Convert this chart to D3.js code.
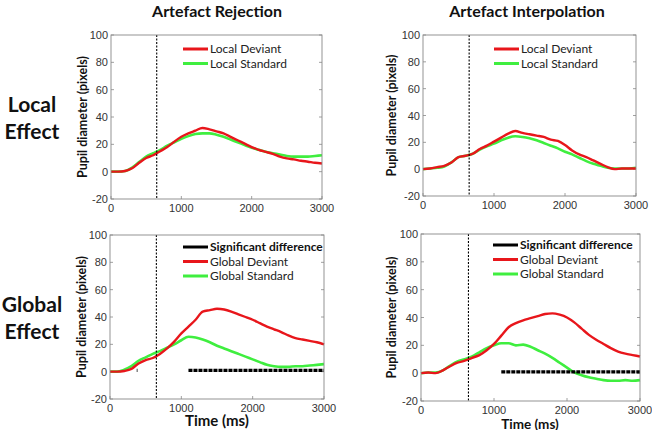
<!DOCTYPE html>
<html>
<head>
<meta charset="utf-8">
<script src="https://cdn.jsdelivr.net/npm/d3@7"></script>
<style>
  body { margin: 0; background: #fff; }
  svg { display: block; }
  .tick-lbl { font-family: "Liberation Sans", Arial, sans-serif; font-size: 11px; fill: #333; }
  .bold-lbl { font-family: Lato, "Open Sans", sans-serif; font-weight: bold; fill: #111; }
  .leg-lbl { font-family: Lato, "Open Sans", sans-serif; font-size: 12px; fill: #222; }
</style>
</head>
<body>
<div id="chart"></div>
<script>
// time axis, sampled every 100 ms
const timeMs = d3.range(0, 3001, 100);
const xTicks = [0, 1000, 2000, 3000];
const yTicks = [-20, 0, 20, 40, 60, 80, 100];
const stimulusMs = 650;

const columnTitles = ["Artefact Rejection", "Artefact Interpolation"];
const rowTitles = [["Local", "Effect"], ["Global", "Effect"]];

// Local effect, artefact rejection
const rejLocalDeviant = [0, 0, 0.5, 2.5, 6.5, 10, 12, 15, 18, 22, 25.5, 28, 30, 32, 31, 29.5, 28, 25.5, 23, 20.5, 18, 16, 14.5, 13, 11, 9.7, 9, 8, 7.3, 6.5, 6];
const rejLocalStandard = [0, 0, 0.5, 3, 7, 11, 13.5, 16, 19, 21.5, 24, 26, 27.5, 28, 28, 27, 25.5, 23.5, 21.5, 19.5, 17.5, 16, 14.5, 13.5, 12.5, 11.5, 11, 11, 11, 11.5, 12];
// Local effect, artefact interpolation
const intLocalDeviant = [0, 0.5, 1.5, 2.5, 5, 9, 10, 11.5, 15, 17.5, 20.5, 23.5, 26.5, 28.5, 27, 26, 25, 24, 22, 21, 18, 14, 11, 9, 6.5, 4, 1.5, 0, 0.5, 0.5, 0.5];
const intLocalStandard = [0, 0.5, 1, 2, 5, 9, 10, 11.5, 14.5, 17, 19, 21.5, 23.5, 24.5, 24, 23, 21.5, 19.5, 17.5, 15.5, 13, 11, 8.5, 6, 4, 2.5, 1, 0.5, 0.5, 0.5, 1];
// Global effect, artefact rejection
const rejGlobalDeviant = [0, 0, 0.5, 2, 6, 8.5, 10, 13, 17, 22, 28, 33, 38, 44, 45, 46, 45.5, 44, 42, 40, 38, 35.5, 33, 31, 29, 26.5, 24.5, 23.5, 22.5, 21.5, 20];
const rejGlobalStandard = [0, 0, 1.5, 4, 8, 10.5, 13, 15, 17.5, 20, 23, 25.5, 25, 23.5, 21.5, 19, 17, 15, 13, 11, 9, 7, 5, 4, 3.5, 3.5, 4, 4, 4.5, 5, 5.5];
// Global effect, artefact interpolation
const intGlobalDeviant = [0, 0.5, 0, 2, 5, 7.5, 9, 11, 13, 16.5, 21, 27, 33, 36, 38, 39.5, 41, 42.5, 43, 42, 40, 36.5, 32, 27.5, 24, 21, 18, 15.5, 14, 13, 12];
const intGlobalStandard = [0, 0.5, 0.5, 2, 5.5, 8.5, 10, 12, 15, 18, 20, 21.5, 21.5, 20, 20.5, 19, 16.5, 14, 11, 7.5, 4, 0.5, -1.5, -3, -4, -5, -5.5, -5.5, -5, -5.5, -5];

// significant-difference intervals (ms), drawn at 1 pixel-unit
const rejSignificant = [[375, 385], [1100, 3000]];
const intSignificant = [[1100, 3000]];

const RED = "#e8161b", GREEN = "#3fee3f";

const W = 652, H = 430;
const svg = d3.select("#chart").append("svg").attr("width", W).attr("height", H);

const panels = [
  { box: [111, 322, 35, 199], labX: 83, red: rejLocalDeviant, green: rejLocalStandard, sig: null,
    names: ["Local Deviant", "Local Standard"], leg: [183, 49], time: null },
  { box: [423, 636, 35, 196], labX: 392, red: intLocalDeviant, green: intLocalStandard, sig: null,
    names: ["Local Deviant", "Local Standard"], leg: [494, 49], time: null },
  { box: [110, 324, 235, 399], labX: 82, red: rejGlobalDeviant, green: rejGlobalStandard, sig: rejSignificant,
    names: ["Global Deviant", "Global Standard"], leg: [183, 247], time: [217, 426, 15] },
  { box: [421, 640, 234, 401], labX: 392, red: intGlobalDeviant, green: intGlobalStandard, sig: intSignificant,
    names: ["Global Deviant", "Global Standard"], leg: [493, 245], time: [530, 428.5, 13.5] }
];

panels.forEach(p => {
  const [l, r, t, b] = p.box;
  const x = d3.scaleLinear().domain([0, 3000]).range([l, r]);
  const y = d3.scaleLinear().domain([-20, 100]).range([b, t]);
  const g = svg.append("g");

  // ticks (inward, matlab style)
  g.selectAll(".yt").data(yTicks).enter().append("line")
    .attr("x1", l).attr("x2", l + 3).attr("y1", d => y(d)).attr("y2", d => y(d))
    .attr("stroke", "#888").attr("stroke-width", 0.8);
  g.selectAll(".yt2").data(yTicks).enter().append("line")
    .attr("x1", r).attr("x2", r - 3).attr("y1", d => y(d)).attr("y2", d => y(d))
    .attr("stroke", "#888").attr("stroke-width", 0.8);
  g.selectAll(".xt").data(xTicks).enter().append("line")
    .attr("x1", d => x(d)).attr("x2", d => x(d)).attr("y1", b).attr("y2", b - 3)
    .attr("stroke", "#888").attr("stroke-width", 0.8);

  g.selectAll(".ytl").data(yTicks).enter().append("text")
    .attr("class", "tick-lbl").attr("x", l - 3).attr("y", d => y(d) + 4)
    .attr("text-anchor", "end").text(d => d);
  g.selectAll(".xtl").data(xTicks).enter().append("text")
    .attr("class", "tick-lbl").attr("x", d => x(d)).attr("y", b + 13)
    .attr("text-anchor", "middle").text(d => d);

  // curves
  const line = d3.line().x((d, i) => x(timeMs[i])).y(d => y(d)).curve(d3.curveMonotoneX);
  g.append("path").datum(p.green).attr("d", line)
    .attr("fill", "none").attr("stroke", GREEN).attr("stroke-width", 2.6);
  g.append("path").datum(p.red).attr("d", line)
    .attr("fill", "none").attr("stroke", RED).attr("stroke-width", 2.4);

  // significance bar
  if (p.sig) {
    g.selectAll(".sig").data(p.sig).enter().append("line")
      .attr("x1", d => x(d[0])).attr("x2", d => x(d[1]))
      .attr("y1", y(1)).attr("y2", y(1))
      .attr("stroke", "#000").attr("stroke-width", 3.2).attr("stroke-dasharray", "4,1");
  }

  // stimulus onset
  g.append("line").attr("x1", x(stimulusMs)).attr("x2", x(stimulusMs))
    .attr("y1", t).attr("y2", b)
    .attr("stroke", "#000").attr("stroke-width", 1.1).attr("stroke-dasharray", "2,1.5");

  // frame
  g.append("rect").attr("x", l).attr("y", t).attr("width", r - l).attr("height", b - t)
    .attr("fill", "none").attr("stroke", "#888").attr("stroke-width", 0.9);

  // y label
  g.append("text").attr("class", "bold-lbl").attr("font-size", 12.5)
    .attr("transform", `translate(${p.labX},${(t + b) / 2}) rotate(-90)`)
    .attr("text-anchor", "middle").attr("dy", "0.35em").text("Pupil diameter (pixels)");

  if (p.time) {
    g.append("text").attr("class", "bold-lbl").attr("font-size", p.time[2])
      .attr("x", p.time[0]).attr("y", p.time[1]).attr("text-anchor", "middle").text("Time (ms)");
  }

  // legend
  const entries = [];
  if (p.sig) entries.push({ name: "Significant difference", color: "#000", bold: true });
  entries.push({ name: p.names[0], color: RED });
  entries.push({ name: p.names[1], color: GREEN });
  const [lx, ly] = p.leg;
  entries.forEach((e, i) => {
    const yy = ly + i * 14.5;
    g.append("line").attr("x1", lx).attr("x2", lx + 25).attr("y1", yy).attr("y2", yy)
      .attr("stroke", e.color).attr("stroke-width", 3);
    g.append("text").attr("class", e.bold ? "bold-lbl" : "leg-lbl").attr("font-size", 12)
      .attr("x", lx + 27).attr("y", yy + 4).text(e.name);
  });
});

// column titles
[217, 527].forEach((cx, i) => {
  svg.append("text").attr("class", "bold-lbl").attr("font-size", 16)
    .attr("x", cx).attr("y", 17).attr("text-anchor", "middle").text(columnTitles[i]);
});

// row titles
[117, 317].forEach((cy, i) => {
  svg.append("text").attr("class", "bold-lbl").attr("font-size", 21)
    .attr("x", 32).attr("y", cy - 5).attr("text-anchor", "middle").text(rowTitles[i][0]);
  svg.append("text").attr("class", "bold-lbl").attr("font-size", 21)
    .attr("x", 32).attr("y", cy + 22).attr("text-anchor", "middle").text(rowTitles[i][1]);
});
</script>
</body>
</html>
